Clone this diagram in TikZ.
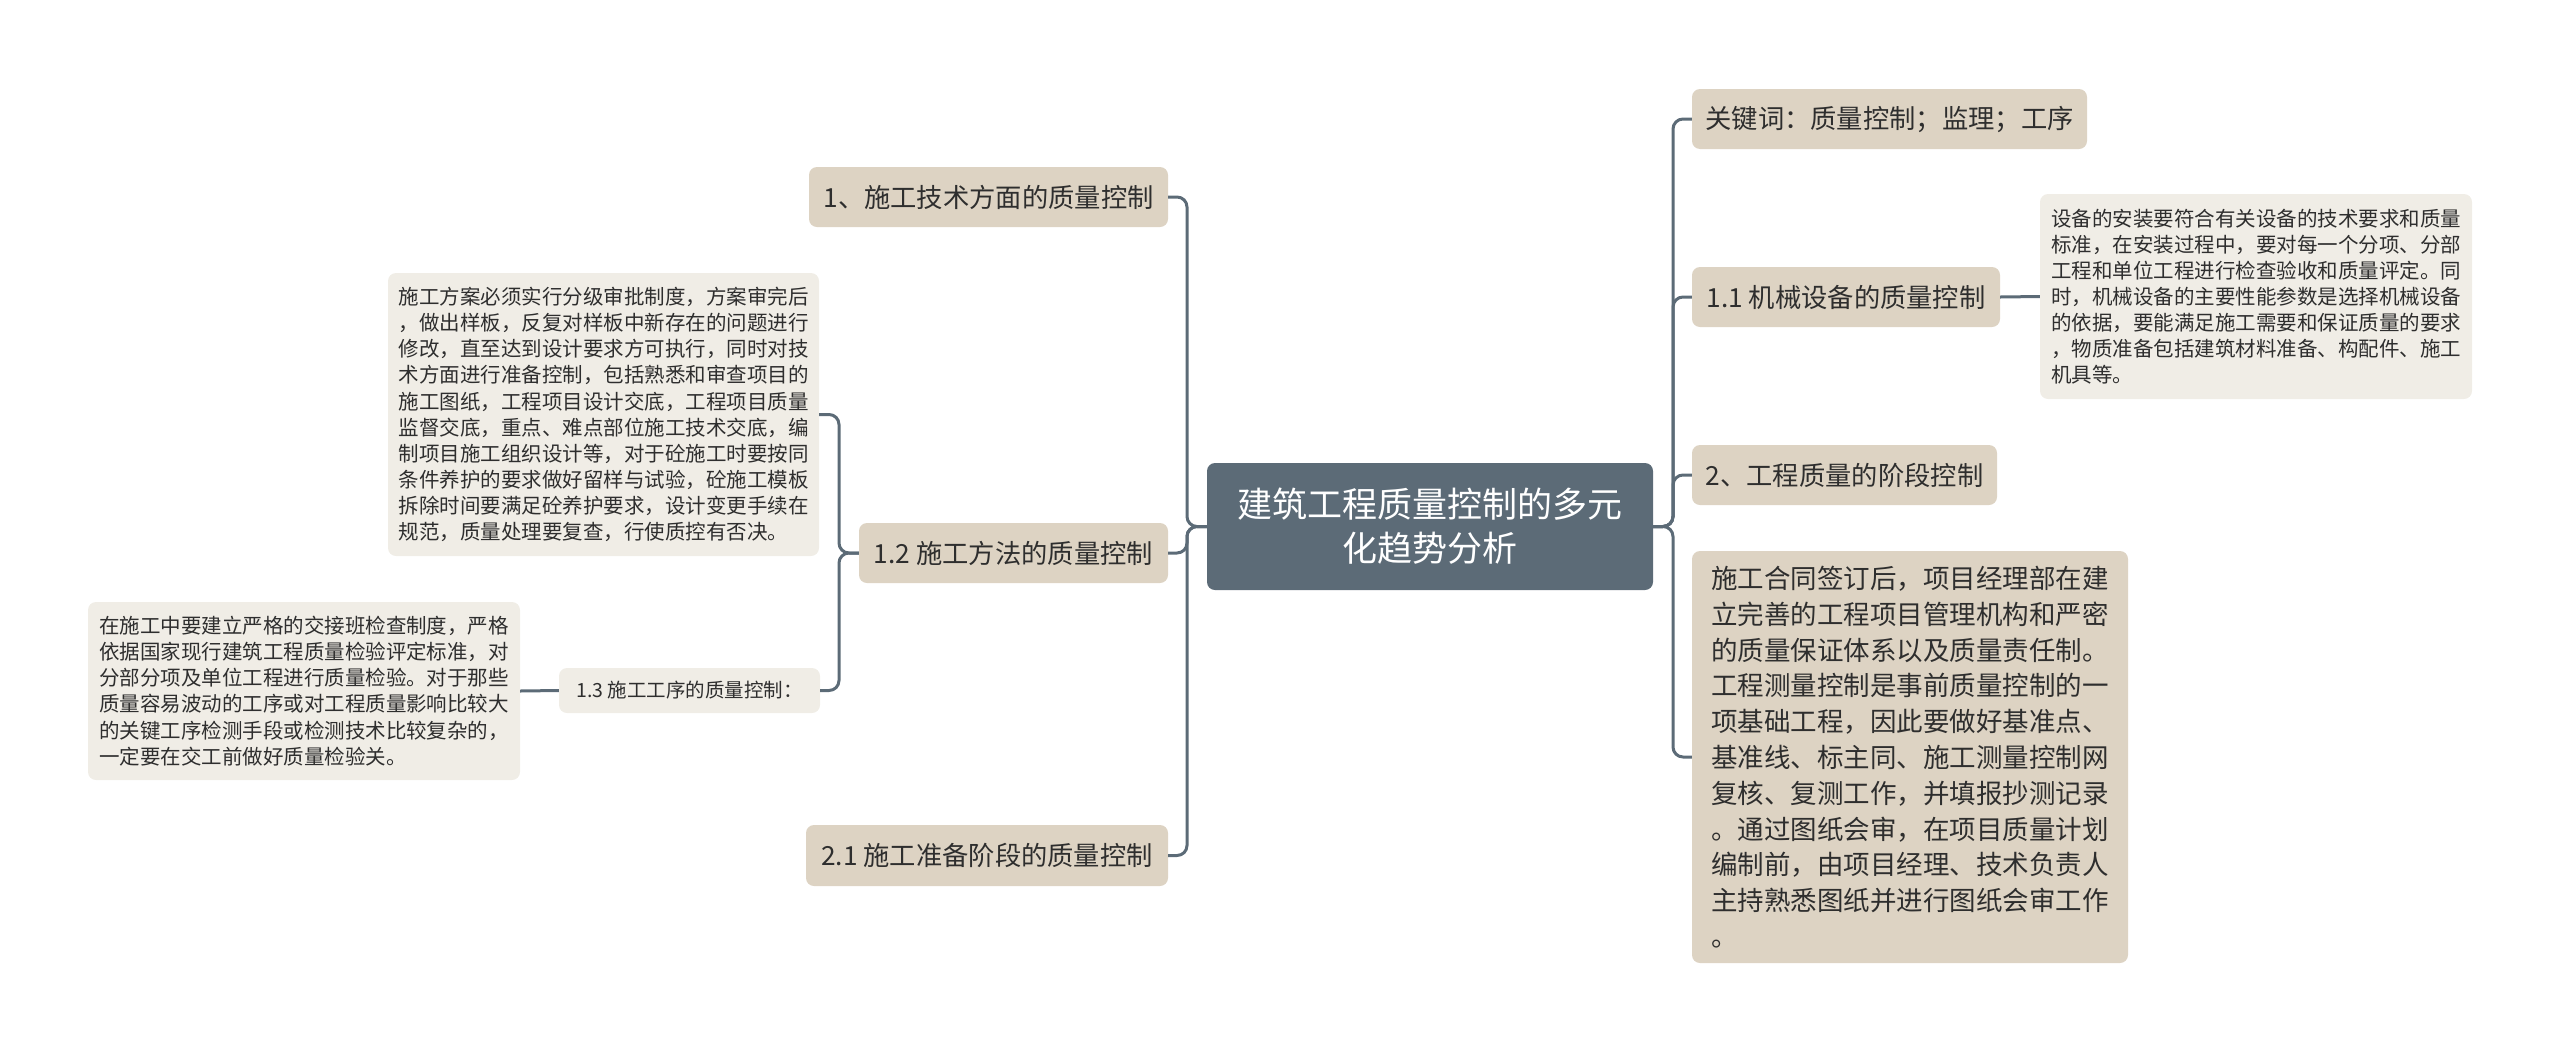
\documentclass[tikz,border=0pt]{standalone}
\usepackage{fontspec}
\setmainfont{Noto Sans CJK SC}
\definecolor{rootfill}{HTML}{5C6B77}
\definecolor{topicfill}{HTML}{DDD3C3}
\definecolor{notefill}{HTML}{F0EDE6}
\definecolor{inkcol}{HTML}{2E2E2E}
\tikzset{
  rootbox/.style={fill=rootfill, rounded corners=8pt, text=white, align=center, font=\fontsize{35}{44}\selectfont},
  topicbox/.style={fill=topicfill, rounded corners=8pt, text=inkcol, align=center, minimum height=60pt, font=\fontsize{26.3}{35.8}\selectfont},
  notebox/.style={fill=notefill, rounded corners=8pt, text=inkcol, align=left, font=\fontsize{20.5}{26.1}\selectfont},
  link/.style={draw=rootfill, line width=3pt, rounded corners=10pt},
}
\begin{document}
\begin{tikzpicture}[x=1pt, y=-1pt]
\useasboundingbox (0,0) rectangle (2560,1053);
\node[rootbox, minimum width=446pt, minimum height=127pt] (root) at (1430,526.5) {建筑工程质量控制的多元\\化趋势分析};
\node[topicbox, minimum width=359pt] (t1) at (988.5,197) {1、施工技术方面的质量控制};
\node[topicbox, minimum width=309pt] (t12) at (1013.5,553) {1.2 施工方法的质量控制};
\node[topicbox, minimum width=362pt, minimum height=61pt] (t21) at (987,855.5) {2.1 施工准备阶段的质量控制};
\node[notebox, minimum width=261pt, minimum height=45pt, align=center, font=\fontsize{19.5}{24}\selectfont] (t13) at (689.5,690.5) {1.3 施工工序的质量控制：};
\node[notebox, minimum width=431pt, minimum height=283pt] (d12) at (603.5,414.5) {施工方案必须实行分级审批制度，方案审完后\\，做出样板，反复对样板中新存在的问题进行\\修改，直至达到设计要求方可执行，同时对技\\术方面进行准备控制，包括熟悉和审查项目的\\施工图纸，工程项目设计交底，工程项目质量\\监督交底，重点、难点部位施工技术交底，编\\制项目施工组织设计等，对于砼施工时要按同\\条件养护的要求做好留样与试验，砼施工模板\\拆除时间要满足砼养护要求，设计变更手续在\\规范，质量处理要复查，行使质控有否决。};
\node[notebox, minimum width=432pt, minimum height=178pt] (d13) at (304,691) {在施工中要建立严格的交接班检查制度，严格\\依据国家现行建筑工程质量检验评定标准，对\\分部分项及单位工程进行质量检验。对于那些\\质量容易波动的工序或对工程质量影响比较大\\的关键工序检测手段或检测技术比较复杂的，\\一定要在交工前做好质量检验关。};
\node[topicbox, minimum width=395pt] (kw) at (1889.5,119) {关键词：质量控制；监理；工序};
\node[topicbox, minimum width=308pt] (t11) at (1846,297) {1.1 机械设备的质量控制};
\node[notebox, minimum width=432pt, minimum height=205pt] (d11) at (2256,296.5) {设备的安装要符合有关设备的技术要求和质量\\标准，在安装过程中，要对每一个分项、分部\\工程和单位工程进行检查验收和质量评定。同\\时，机械设备的主要性能参数是选择机械设备\\的依据，要能满足施工需要和保证质量的要求\\，物质准备包括建筑材料准备、构配件、施工\\机具等。};
\node[topicbox, minimum width=305pt] (t2) at (1844.5,475) {2、工程质量的阶段控制};
\node[topicbox, minimum width=436pt, minimum height=412pt, align=left, font=\fontsize{26.5}{35.8}\selectfont] (d2) at (1910,757) {施工合同签订后，项目经理部在建\\立完善的工程项目管理机构和严密\\的质量保证体系以及质量责任制。\\工程测量控制是事前质量控制的一\\项基础工程，因此要做好基准点、\\基准线、标主同、施工测量控制网\\复核、复测工作，并填报抄测记录\\。通过图纸会审，在项目质量计划\\编制前，由项目经理、技术负责人\\主持熟悉图纸并进行图纸会审工作\\。};
\coordinate (lspine) at (1187,526.5);
\coordinate (rspine) at (1673,526.5);
\coordinate (bspine) at (839,553);
\draw[link] (root.west) -- (lspine) |- (t1.east);
\draw[link] (root.west) -- (lspine) |- (t12.east);
\draw[link] (root.west) -- (lspine) |- (t21.east);
\draw[link] (t12.west) -- (bspine) |- (d12.east);
\draw[link] (t12.west) -- (bspine) |- (t13.east);
\draw[link] (t13.west) -- (d13.east);
\draw[link] (root.east) -- (rspine) |- (kw.west);
\draw[link] (root.east) -- (rspine) |- (t11.west);
\draw[link] (root.east) -- (rspine) |- (t2.west);
\draw[link] (root.east) -- (rspine) |- (d2.west);
\draw[link] (t11.east) -- (d11.west);
\end{tikzpicture}
\end{document}
